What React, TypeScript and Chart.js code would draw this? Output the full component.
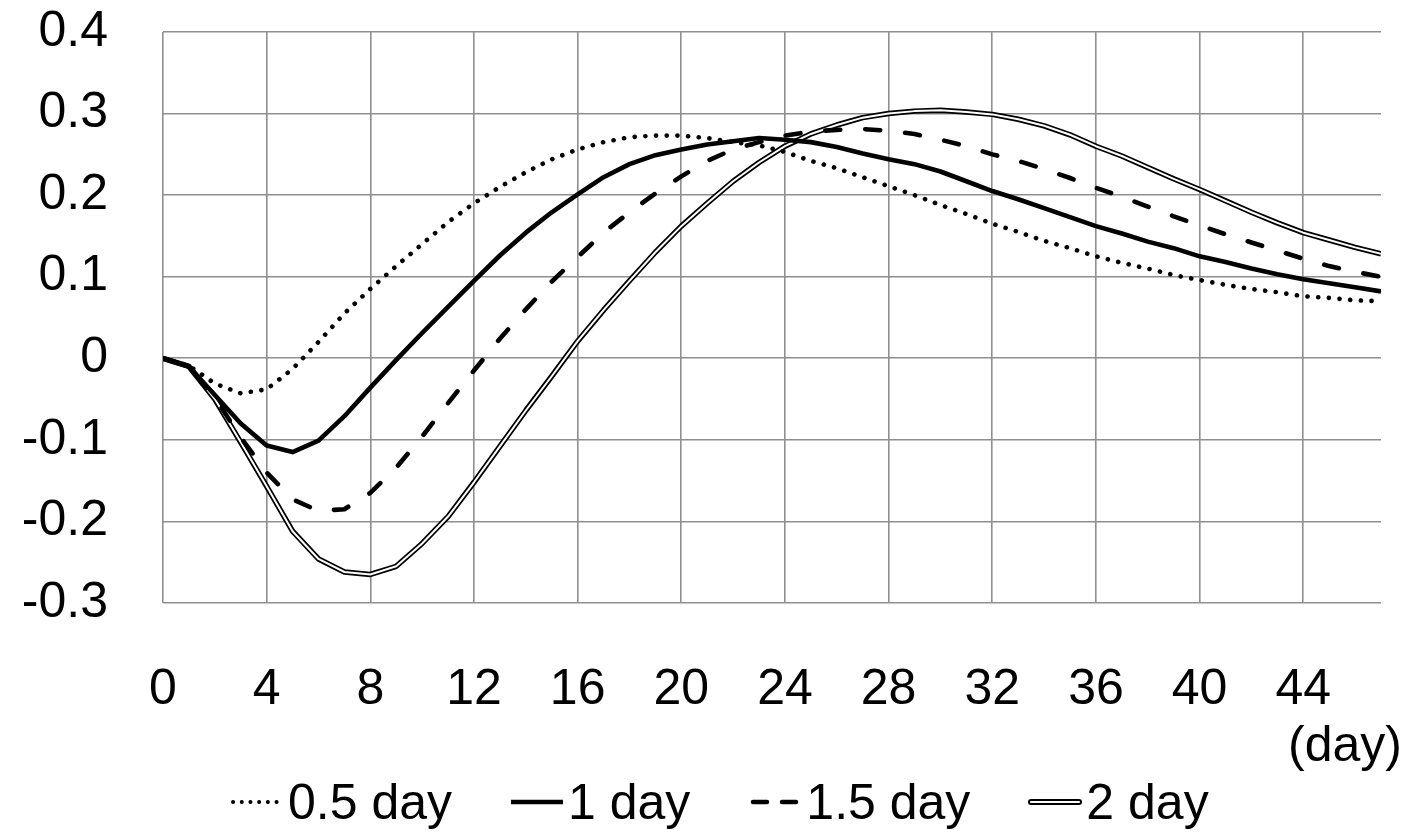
import React, { useEffect, useRef } from 'react';
import { Chart, registerables } from 'chart.js';

Chart.register(...registerables);

const days = [0, 1, 2, 3, 4, 5, 6, 7, 8, 9, 10, 11, 12, 13, 14, 15, 16, 17, 18, 19, 20, 21, 22, 23, 24, 25, 26, 27, 28, 29, 30, 31, 32, 33, 34, 35, 36, 37, 38, 39, 40, 41, 42, 43, 44, 45, 46, 47];

const halfDay = [0, -0.009, -0.031, -0.043, -0.038, -0.013, 0.02, 0.055, 0.085, 0.113, 0.14, 0.167, 0.19, 0.21, 0.228, 0.244, 0.256, 0.265, 0.271, 0.273, 0.273, 0.27, 0.265, 0.261, 0.253, 0.242, 0.233, 0.222, 0.211, 0.2, 0.188, 0.177, 0.165, 0.155, 0.144, 0.135, 0.125, 0.117, 0.11, 0.102, 0.096, 0.09, 0.085, 0.081, 0.076, 0.074, 0.071, 0.07];

const oneDay = [0, -0.01, -0.045, -0.08, -0.107, -0.115, -0.101, -0.071, -0.036, -0.002, 0.031, 0.063, 0.095, 0.126, 0.154, 0.179, 0.201, 0.222, 0.238, 0.249, 0.256, 0.262, 0.266, 0.27, 0.268, 0.265, 0.259, 0.251, 0.244, 0.238, 0.229, 0.217, 0.205, 0.195, 0.184, 0.173, 0.162, 0.153, 0.143, 0.135, 0.125, 0.118, 0.11, 0.103, 0.097, 0.092, 0.087, 0.082];

const oneHalfDay = [0, -0.01, -0.048, -0.097, -0.14, -0.173, -0.187, -0.185, -0.165, -0.134, -0.096, -0.055, -0.015, 0.024, 0.06, 0.094, 0.124, 0.154, 0.179, 0.202, 0.223, 0.242, 0.256, 0.265, 0.273, 0.278, 0.28, 0.281, 0.279, 0.275, 0.268, 0.26, 0.25, 0.242, 0.232, 0.221, 0.209, 0.198, 0.186, 0.174, 0.163, 0.152, 0.142, 0.132, 0.122, 0.113, 0.106, 0.1];

const twoDay = [0, -0.01, -0.05, -0.103, -0.157, -0.212, -0.246, -0.262, -0.265, -0.255, -0.227, -0.194, -0.152, -0.108, -0.064, -0.022, 0.021, 0.059, 0.095, 0.13, 0.162, 0.19, 0.217, 0.24, 0.26, 0.275, 0.286, 0.295, 0.3, 0.303, 0.304, 0.302, 0.299, 0.293, 0.285, 0.274, 0.26, 0.248, 0.234, 0.22, 0.207, 0.193, 0.179, 0.166, 0.154, 0.145, 0.136, 0.128];

const seriesLabels = ['0.5 day', '1 day', '1.5 day', '2 day'];
const xUnitLabel = '(day)';

const FONT = '"Liberation Sans", Arial, sans-serif';
const FONT_SIZE = 50;
const GRID = '#8f8f8f';

function Sample({ kind }: { kind: number }) {
  const w = 54;
  const h = 20;
  const y = h / 2;
  if (kind === 0) {
    return (
      <svg width={w} height={h} style={{ display: 'block' }}>
        <line x1={3} y1={y} x2={w - 2} y2={y} stroke="#000" strokeWidth={4} strokeDasharray="0.1 8.6" strokeLinecap="round" />
      </svg>
    );
  }
  if (kind === 1) {
    return (
      <svg width={w} height={h} style={{ display: 'block' }}>
        <line x1={1} y1={y} x2={w - 1} y2={y} stroke="#000" strokeWidth={4.5} />
      </svg>
    );
  }
  if (kind === 2) {
    return (
      <svg width={w} height={h} style={{ display: 'block' }}>
        <line x1={5} y1={y} x2={w - 3} y2={y} stroke="#000" strokeWidth={4.5} strokeDasharray="14 15" strokeLinecap="round" />
      </svg>
    );
  }
  return (
    <svg width={w} height={h} style={{ display: 'block' }}>
      <line x1={3} y1={y} x2={w - 3} y2={y} stroke="#000" strokeWidth={6} strokeLinecap="round" />
      <line x1={3} y1={y} x2={w - 3} y2={y} stroke="#fff" strokeWidth={2.2} strokeLinecap="round" />
    </svg>
  );
}

export default function App() {
  const ref = useRef<HTMLCanvasElement>(null);

  useEffect(() => {
    const pts = (ys: number[]) => days.map((d, i) => ({ x: d, y: ys[i] }));
    const base = { pointRadius: 0, pointHoverRadius: 0, tension: 0, fill: false, borderJoinStyle: 'round' as const };
    const chart = new Chart(ref.current as HTMLCanvasElement, {
      type: 'line',
      data: {
        datasets: [
          { ...base, label: seriesLabels[0], data: pts(halfDay), borderColor: '#000', borderWidth: 4.6, borderDash: [0.1, 10.6], borderCapStyle: 'round' },
          { ...base, label: seriesLabels[1], data: pts(oneDay), borderColor: '#000', borderWidth: 4.6 },
          { ...base, label: seriesLabels[2], data: pts(oneHalfDay), borderColor: '#000', borderWidth: 4.6, borderDash: [15, 25], borderCapStyle: 'round' },
          { ...base, label: seriesLabels[3] + ' inner', data: pts(twoDay), borderColor: '#fff', borderWidth: 2 },
          { ...base, label: seriesLabels[3], data: pts(twoDay), borderColor: '#000', borderWidth: 5.5 },
        ],
      },
      options: {
        responsive: true,
        maintainAspectRatio: false,
        animation: false,
        events: [],
        layout: { padding: { top: 32, right: 31, bottom: 0, left: 0 } },
        plugins: { legend: { display: false }, tooltip: { enabled: false } },
        scales: {
          x: {
            type: 'linear',
            min: 0,
            max: 47,
            border: { display: false },
            grid: { color: GRID, lineWidth: 1.6, drawTicks: false },
            ticks: {
              stepSize: 4,
              includeBounds: false,
              padding: 57,
              color: '#000',
              maxRotation: 0,
              autoSkip: false,
              font: { family: FONT, size: FONT_SIZE },
            },
            afterFit: (s: any) => {
              s.height = 230;
              s.paddingLeft = 0;
              s.paddingRight = 0;
            },
          },
          y: {
            min: -0.3,
            max: 0.4,
            border: { display: false },
            grid: { color: GRID, lineWidth: 1.6, drawTicks: false },
            ticks: {
              stepSize: 0.1,
              padding: 55,
              color: '#000',
              font: { family: FONT, size: FONT_SIZE },
              callback: (v: any) => {
                const n = Number(v);
                return Math.abs(n) < 1e-9 ? '0' : n.toFixed(1);
              },
            },
            afterFit: (s: any) => {
              s.width = 163;
              s.paddingTop = 0;
              s.paddingBottom = 0;
            },
          },
        },
      },
    });
    return () => chart.destroy();
  }, []);

  return (
    <div style={{ position: 'fixed', left: 0, top: 0, width: 1412, height: 833, background: '#fff', fontFamily: FONT }}>
      <canvas ref={ref} />
      <div
        style={{
          position: 'absolute',
          left: 1288,
          top: 719,
          fontSize: FONT_SIZE,
          lineHeight: `${FONT_SIZE}px`,
          color: '#000',
          whiteSpace: 'nowrap',
        }}
      >
        {xUnitLabel}
      </div>
      <div
        style={{
          position: 'absolute',
          left: 230,
          top: 777,
          height: FONT_SIZE,
          display: 'flex',
          alignItems: 'center',
          fontSize: FONT_SIZE,
          lineHeight: `${FONT_SIZE}px`,
          color: '#000',
          whiteSpace: 'nowrap',
        }}
      >
        {seriesLabels.map((lab, i) => (
          <div key={lab} style={{ display: 'flex', alignItems: 'center', marginLeft: i === 0 ? 0 : 58 }}>
            <Sample kind={i} />
            <span style={{ marginLeft: 4 }}>{lab}</span>
          </div>
        ))}
      </div>
    </div>
  );
}
